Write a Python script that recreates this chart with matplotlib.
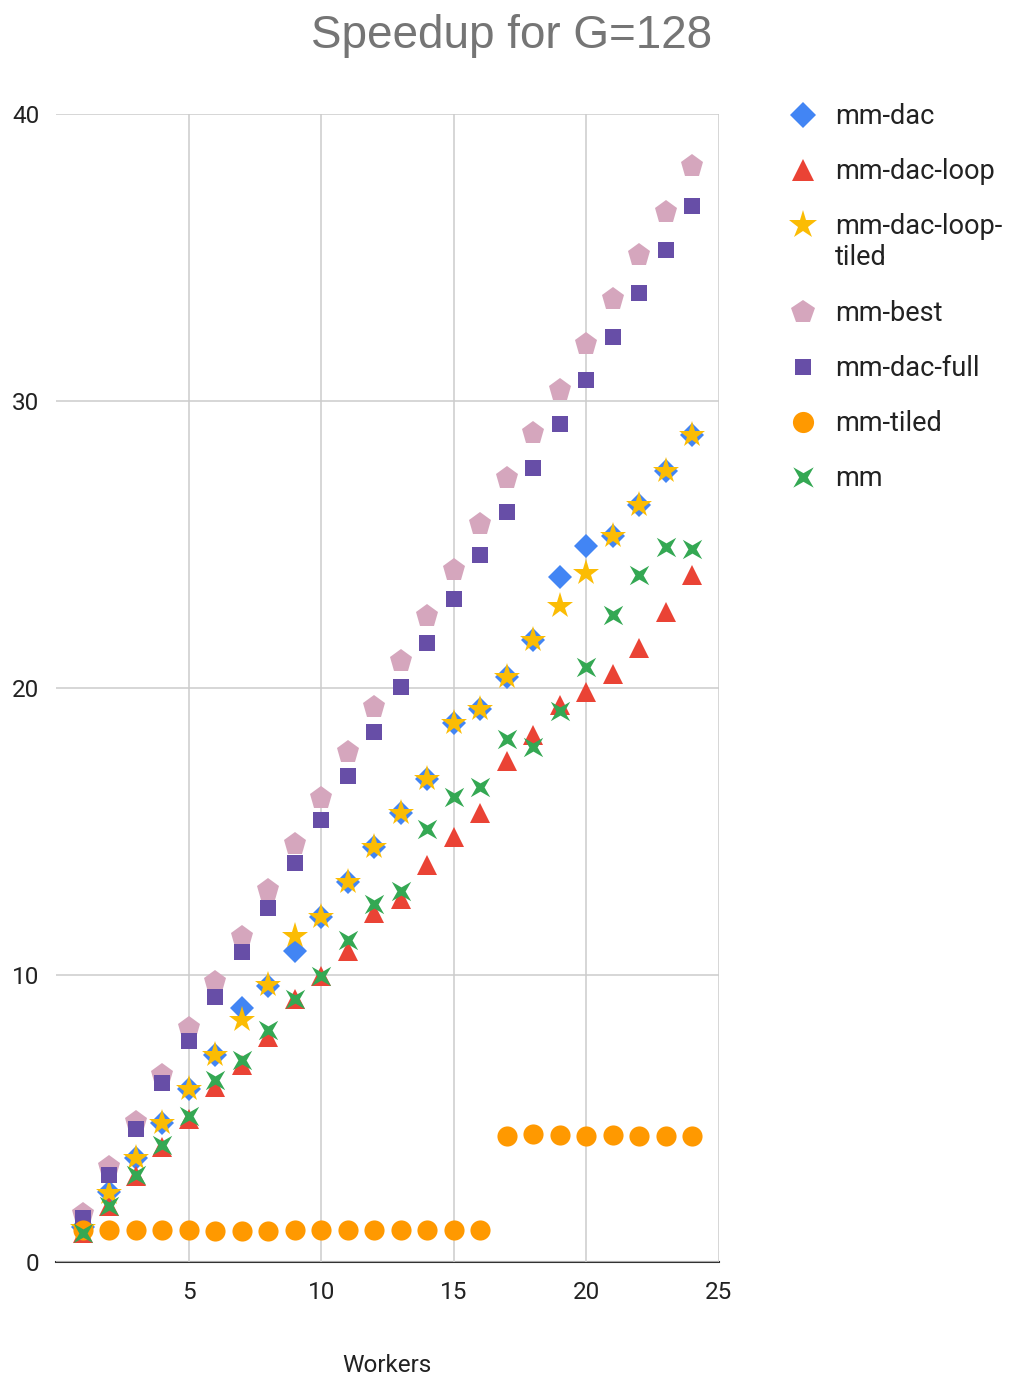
import matplotlib
matplotlib.use("Agg")
import matplotlib.pyplot as plt
from matplotlib.path import Path
from matplotlib.transforms import Affine2D
import numpy as np

# Worker counts
workers = list(range(1, 25))

# Speedup per implementation
mm_dac = [1.23, 2.45, 3.64, 4.84, 6.03, 7.21, 8.84, 9.63, 10.82, 12.03, 13.23, 14.46,
          15.66, 16.82, 18.78, 19.27, 20.38, 21.67, 23.87, 24.95, 25.3, 26.38, 27.56, 28.8]
mm_dac_loop = [1.0, 1.95, 3.0, 4.0, 5.0, 6.1, 6.85, 7.85, 9.15, 9.95, 10.85, 12.15,
               12.65, 13.85, 14.8, 15.65, 17.45, 18.36, 19.4, 19.87, 20.5, 21.4, 22.66, 23.94]
mm_dac_loop_tiled = [1.2, 2.42, 3.62, 4.84, 6.03, 7.21, 8.43, 9.65, 11.36, 12.03, 13.23, 14.46,
                     15.66, 16.82, 18.78, 19.27, 20.38, 21.67, 22.86, 24.0, 25.3, 26.38, 27.56, 28.8]
mm_best = [1.68, 3.3, 4.89, 6.5, 8.14, 9.77, 11.33, 12.96, 14.56, 16.16, 17.78, 19.35,
           20.94, 22.5, 24.1, 25.7, 27.3, 28.9, 30.4, 32.0, 33.55, 35.1, 36.6, 38.2]
mm_dac_full = [1.53, 3.03, 4.65, 6.23, 7.71, 9.24, 10.79, 12.32, 13.89, 15.4, 16.93, 18.48,
               20.03, 21.57, 23.1, 24.63, 26.13, 27.67, 29.2, 30.73, 32.23, 33.76, 35.26, 36.8]
mm_tiled = [1.1, 1.1, 1.1, 1.12, 1.1, 1.08, 1.08, 1.07, 1.1, 1.13, 1.12, 1.1,
            1.1, 1.1, 1.1, 1.12, 4.4, 4.45, 4.42, 4.4, 4.43, 4.4, 4.4, 4.4]
mm = [1.0, 1.95, 3.02, 4.08, 5.1, 6.34, 7.05, 8.1, 9.18, 9.97, 11.22, 12.47,
      12.93, 15.07, 16.21, 16.56, 18.21, 17.96, 19.2, 20.72, 22.56, 23.92, 24.93, 24.84]

series_names = ["mm-dac", "mm-dac-loop", "mm-dac-loop-\ntiled", "mm-best",
                "mm-dac-full", "mm-tiled", "mm"]
series_values = [mm_dac, mm_dac_loop, mm_dac_loop_tiled, mm_best, mm_dac_full, mm_tiled, mm]

x_ticks = [5, 10, 15, 20, 25]
y_ticks = [0, 10, 20, 30, 40]

# Thin four-pointed cross used for the "mm" series
cross = Path.unit_regular_star(4, 0.3).transformed(Affine2D().rotate_deg(45))

styles = [
    dict(marker="D", color="#4285F4", ms=12.5),
    dict(marker="^", color="#EA4335", ms=15),
    dict(marker="*", color="#FBBC04", ms=20),
    dict(marker="p", color="#D5A6BD", ms=17),
    dict(marker="s", color="#674EA7", ms=11.5),
    dict(marker="o", color="#FF9900", ms=14.5),
    dict(marker=cross, color="#34A853", ms=14),
]

plt.rcParams["font.family"] = ["Roboto", "DejaVu Sans"]

W, H = 1016, 1380
fig = plt.figure(figsize=(W / 100, H / 100), dpi=100)
ax = fig.add_axes([56 / W, 1 - 1262 / H, (719 - 56) / W, (1262 - 114) / H])

for vals, st in zip(series_values, styles):
    ax.plot(workers, vals, linestyle="none", marker=st["marker"], color=st["color"],
            markersize=st["ms"], markeredgewidth=0, clip_on=False)

ax.set_xlim(0, 25)
ax.set_ylim(0, 40)
ax.set_xticks(x_ticks)
ax.set_yticks(y_ticks)
ax.tick_params(axis="both", length=0, labelsize=17.5, labelcolor="#222222")
ax.tick_params(axis="y", pad=12)
ax.tick_params(axis="x", pad=14)
ax.grid(True, color="#cccccc", linewidth=1.1)
ax.set_axisbelow(True)
for side in ("left", "right", "top"):
    ax.spines[side].set_visible(False)
ax.spines["bottom"].set_color("#333333")
ax.spines["bottom"].set_linewidth(1.5)
ax.spines["bottom"].set_zorder(0.5)

fig.text(387 / W, 1 - 1366 / H, "Workers", fontsize=17.5, color="#222222",
         ha="center", va="center")

fig.text(512 / W, 1 - 36 / H, "Speedup for G=128", fontsize=33, color="#757575",
         family=["Liberation Sans", "DejaVu Sans"], ha="center", va="center")

# Legend drawn in a pixel-space overlay
lg = fig.add_axes([0, 0, 1, 1], facecolor="none")
lg.set_xlim(0, W)
lg.set_ylim(H, 0)
lg.axis("off")
legend_y = [115, 170, 225, 312, 367, 422, 477]
for name, st, yy in zip(series_names, styles, legend_y):
    lg.plot([803], [yy], linestyle="none", marker=st["marker"], color=st["color"],
            markersize=st["ms"] * 1.05, markeredgewidth=0)
    lg.text(835, yy - 12, name, fontsize=19.5, color="#222222", ha="left", va="top",
            linespacing=1.2)

fig.savefig("out.png", dpi=100, facecolor="white")
